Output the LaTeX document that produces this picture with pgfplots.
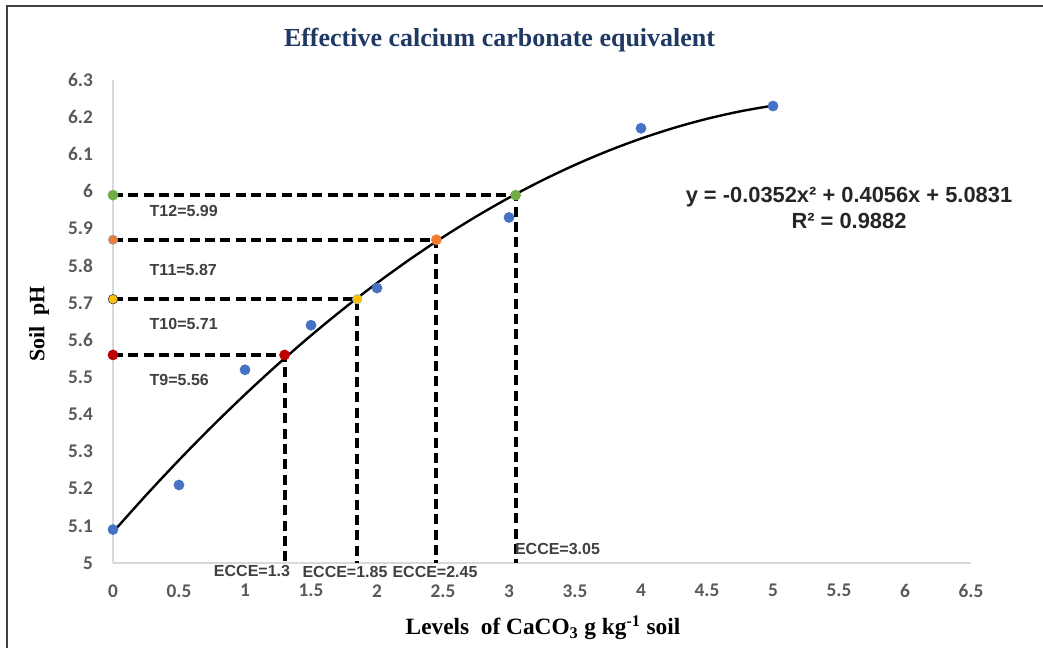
\documentclass[border=0pt]{standalone}
\usepackage{pgfplots}
\pgfplotsset{compat=1.18}
\usepackage{fontspec}
\setmainfont{Liberation Serif}
\newfontfamily\lsans{Liberation Sans}
\newfontfamily\carl{Carlito}
\definecolor{ptblue}{HTML}{4472C4}
\definecolor{ptorange}{HTML}{ED7D31}
\definecolor{ptgreen}{HTML}{70AD47}
\definecolor{ptred}{HTML}{C00000}
\definecolor{ptyellow}{HTML}{FFC000}
\definecolor{ticktext}{HTML}{595959}
\definecolor{lbltext}{HTML}{404040}
\definecolor{titlecol}{HTML}{1F3864}
\definecolor{axgray}{HTML}{D9D9D9}
\begin{document}
\begin{tikzpicture}
\useasboundingbox (-84.75pt,-63.75pt) rectangle (697.5pt,422.25pt);
\draw[color=lbltext, line width=1.6pt] (-79.5pt,-70pt) -- (-79.5pt,417.75pt) -- (700pt,417.75pt);
\begin{axis}[
  at={(0pt,0pt)}, anchor=south west,
  scale only axis, width=643.5pt, height=362.25pt,
  xmin=0, xmax=6.5, ymin=5, ymax=6.3,
  axis x line=bottom, axis y line=left,
  axis line style={color=axgray, line width=0.8pt, -},
  major tick length=0pt,
  xtick={0,0.5,1,1.5,2,2.5,3,3.5,4,4.5,5,5.5,6,6.5},
  ytick={5,5.1,5.2,5.3,5.4,5.5,5.6,5.7,5.8,5.9,6,6.1,6.2,6.3},
  /pgf/number format/assume math mode=true,
  ticklabel style={font=\carl\bfseries\fontsize{14.5}{16}\selectfont, text=ticktext},
  xticklabel style={yshift=-12.5pt},
  yticklabel style={xshift=-11.5pt},
  clip=false,
]
% dashed guide lines
\addplot[black, line width=2.9pt, dash pattern=on 7.5pt off 4pt] coordinates {(0,5.56) (1.3,5.56) (1.3,5)};
\addplot[black, line width=2.9pt, dash pattern=on 7.5pt off 4pt] coordinates {(0,5.71) (1.85,5.71) (1.85,5)};
\addplot[black, line width=2.9pt, dash pattern=on 7.5pt off 4pt] coordinates {(0,5.87) (2.45,5.87) (2.45,5)};
\addplot[black, line width=2.9pt, dash pattern=on 7.5pt off 4pt] coordinates {(0,5.99) (3.05,5.99) (3.05,5)};
% polynomial trend line
\addplot[black, line width=1.8pt, smooth] coordinates {
(0,5.0831) (0.25,5.1823) (0.5,5.2771) (0.75,5.3675) (1,5.4535) (1.25,5.5351)
(1.5,5.6123) (1.75,5.6851) (2,5.7535) (2.25,5.8175) (2.5,5.8771) (2.75,5.9323)
(3,5.9831) (3.25,6.0295) (3.5,6.0715) (3.75,6.1091) (4,6.1423) (4.25,6.1711)
(4.5,6.1955) (4.75,6.2155) (5,6.2311)};
% observed points
\addplot[only marks, mark=*, mark size=3.8pt, color=ptblue] coordinates {
(0,5.09) (0.5,5.21) (1,5.52) (1.5,5.64) (2,5.74) (3,5.93) (4,6.17) (5,6.23)};
% treatment points
\addplot[only marks, mark=*, mark size=3.8pt, color=ptred] coordinates {(0,5.56) (1.3,5.56)};
\addplot[only marks, mark=*, mark size=3.6pt, draw=titlecol, fill=ptyellow] coordinates {(0,5.71)};
\addplot[only marks, mark=*, mark size=3.6pt, draw=ptblue!50, fill=ptyellow] coordinates {(1.85,5.71)};
\addplot[only marks, mark=*, mark size=3.6pt, draw=ptblue!60, fill=ptorange] coordinates {(0,5.87)};
\addplot[only marks, mark=*, mark size=3.8pt, color=ptorange] coordinates {(2.45,5.87)};
\addplot[only marks, mark=*, mark size=3.8pt, color=ptgreen] coordinates {(0,5.99) (3.05,5.99)};
\end{axis}
% title and axis labels
\node[font=\bfseries\fontsize{19.5}{21}\selectfont, text=titlecol] at (289.9pt,392.25pt) {Effective calcium carbonate equivalent};
\node[font=\bfseries\fontsize{16.5}{18}\selectfont, rotate=90] at (-55.5pt,179.25pt) {Soil\ \ pH};
\node[font=\bfseries\fontsize{17.5}{19}\selectfont] at (322.5pt,-48.5pt) {Levels\ \ of CaCO\textsubscript{3} g kg\textsuperscript{-1} soil};
% equation
\node[font=\lsans\bfseries\fontsize{16.4}{18}\selectfont, text=black!85] at (552pt,274.5pt) {y = -0.0352x² + 0.4056x + 5.0831};
\node[font=\lsans\bfseries\fontsize{16.4}{18}\selectfont, text=black!85] at (552pt,256.5pt) {R² = 0.9882};
% treatment labels
\begin{scope}[every node/.style={font=\lsans\bfseries\fontsize{12}{14}\selectfont, text=lbltext}]
\node[anchor=west] at (24pt,264pt) {T12=5.99};
\node[anchor=west] at (24pt,219.75pt) {T11=5.87};
\node[anchor=west] at (24pt,179.25pt) {T10=5.71};
\node[anchor=west] at (24pt,137.25pt) {T9=5.56};
\node at (104.25pt,-6pt) {ECCE=1.3};
\node at (174pt,-6.75pt) {ECCE=1.85};
\node at (241.5pt,-6.75pt) {ECCE=2.45};
\node[anchor=west] at (298pt,10.5pt) {ECCE=3.05};
\end{scope}
\end{tikzpicture}
\end{document}
